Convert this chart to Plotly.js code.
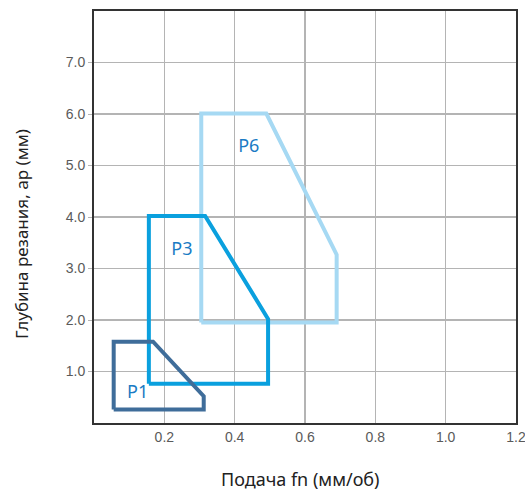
<!DOCTYPE html>
<html>
<head>
<meta charset="utf-8">
<script src="https://cdn.plot.ly/plotly-3.0.1.min.js"></script>
<style>html,body{margin:0;padding:0;background:#fff;}#chart{width:525px;height:490px;}</style>
</head>
<body>
<div id="chart"></div>
<script>
// Region outlines (feed fn, mm/rev ; depth ap, mm)
var p1X = [0.056, 0.056, 0.168, 0.312, 0.312, 0.056];
var p1Y = [0.26, 1.58, 1.58, 0.52, 0.26, 0.26];
var p3X = [0.156, 0.156, 0.316, 0.495, 0.495, 0.156];
var p3Y = [0.76, 4.02, 4.02, 2.02, 0.76, 0.76];
var p6X = [0.305, 0.305, 0.49, 0.69, 0.69, 0.305];
var p6Y = [1.95, 6.01, 6.01, 3.27, 1.95, 1.95];
var labelText = ["P1", "P3", "P6"];
var labelX = [0.124, 0.25, 0.44];
var labelY = [0.57, 3.35, 5.35];
var xTicks = [0.2, 0.4, 0.6, 0.8, 1.0, 1.2];
var xTickText = ["0.2", "0.4", "0.6", "0.8", "1.0", "1.2"];
var yTicks = [1, 2, 3, 4, 5, 6, 7];
var yTickText = ["1.0", "2.0", "3.0", "4.0", "5.0", "6.0", "7.0"];
var xTitle = 'Подача fn (мм/об)';
var yTitle = 'Глубина резания, ap (мм)';

function outline(x, y, color) {
  return {x: x, y: y, mode: 'lines', type: 'scatter', hoverinfo: 'skip',
    line: {color: color, width: 4, shape: 'linear'}, showlegend: false};
}
var traces = [
  outline(p6X, p6Y, '#a6d9f3'),
  outline(p3X, p3Y, '#0aa0de'),
  outline(p1X, p1Y, '#3f6d9a'),
  {x: labelX, y: labelY, text: labelText, mode: 'text', type: 'scatter',
   textfont: {family: 'Noto Sans', size: 18, color: '#1a7bc4'}, showlegend: false, hoverinfo: 'skip'}
];
var tickFont = {family: 'Liberation Sans', size: 14, color: '#5a5a5a'};
var layout = {
  width: 525, height: 490,
  margin: {l: 94, r: 9, t: 11, b: 67},
  paper_bgcolor: '#fff', plot_bgcolor: '#fff',
  font: {family: 'Noto Sans', color: '#444'},
  xaxis: {range: [0, 1.2], tickvals: xTicks, ticktext: xTickText,
    showgrid: true, gridcolor: '#b4b4b4', gridwidth: 1.5, zeroline: false,
    showline: true, linecolor: '#333', linewidth: 2, mirror: true,
    ticks: '', tickfont: tickFont, ticklabeloverflow: 'allow'},
  yaxis: {range: [0, 8], tickvals: yTicks, ticktext: yTickText,
    showgrid: true, gridcolor: '#b4b4b4', gridwidth: 1.5, zeroline: false,
    showline: true, linecolor: '#333', linewidth: 2, mirror: true,
    ticks: 'outside', ticklen: 4, tickcolor: '#b4b4b4', tickfont: tickFont},
  annotations: [
    {text: xTitle, xref: 'paper', yref: 'paper', x: 0.49, y: -0.135, xanchor: 'center', yanchor: 'middle',
     showarrow: false, font: {family: 'Noto Sans', size: 18, color: '#222'}},
    {text: yTitle, xref: 'paper', yref: 'paper', x: -0.172, y: 0.46, xanchor: 'center', yanchor: 'middle',
     textangle: -90, showarrow: false, font: {family: 'Noto Sans', size: 17, color: '#222'}}
  ]
};
Plotly.newPlot('chart', traces, layout, {displayModeBar: false, staticPlot: true});
</script>
</body>
</html>
